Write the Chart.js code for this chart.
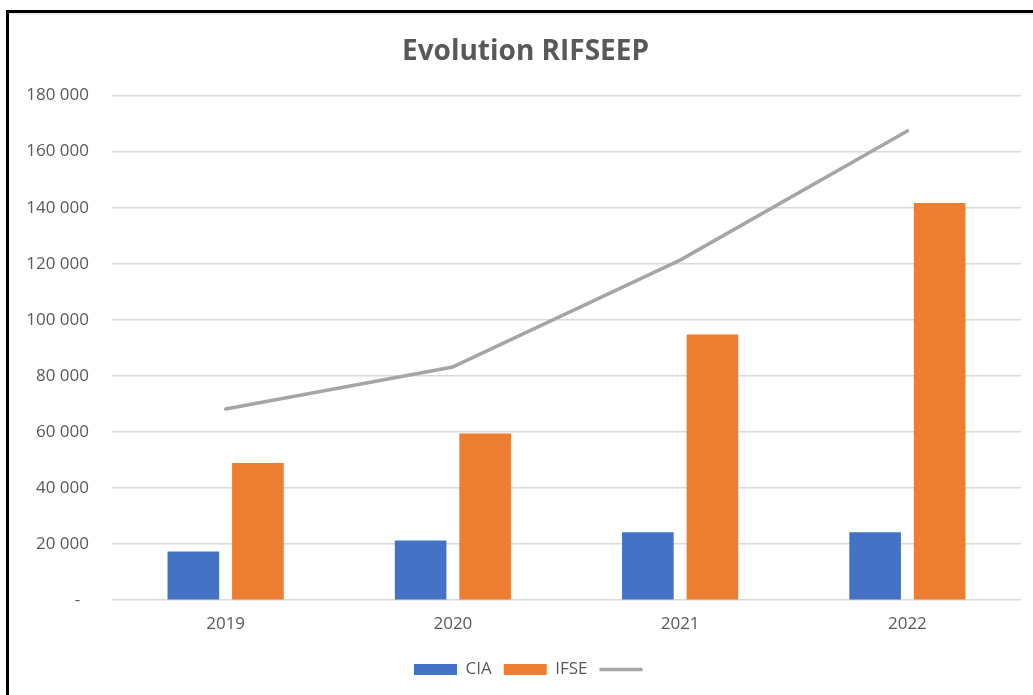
<!DOCTYPE html>
<html>
<head>
<meta charset="utf-8">
<script src="https://cdn.jsdelivr.net/npm/chart.js@4"></script>
<style>
  html, body { margin: 0; padding: 0; background: #fff; overflow: hidden; width: 1033px; height: 695px; }
  #wrap { position: absolute; left: 0; top: 0; width: 1033px; height: 700px; }
  #frame { position: absolute; left: 6px; top: 10px; width: 1100px; height: 800px;
           border-left: 3px solid #000; border-top: 3px solid #000; pointer-events: none;
           box-shadow: inset 0 2px 2px rgba(0,0,0,0.08); }
</style>
</head>
<body>
<div id="wrap"><canvas id="c" width="1033" height="700"></canvas></div>
<div id="frame"></div>
<script>
const categories = ['2019', '2020', '2021', '2022'];
const ciaValues = [17300, 21300, 24200, 24200];
const ifseValues = [48900, 59400, 94800, 141700];
const totalValues = [68200, 83200, 121300, 167400];
const seriesNames = ['CIA', 'IFSE', ''];
const titleText = 'Evolution RIFSEEP';

const textColor = '#595959';
const FONT = "'Open Sans', sans-serif";

function fmt(v) {
  if (v === 0) return '-  ';
  return String(v).replace(/\B(?=(\d{3})+(?!\d))/g, ' ');
}

const shiftBoxes = {
  id: 'shiftBoxes',
  afterLayout(chart) {
    const d = 22;
    if (chart.legend) { chart.legend.left += d; chart.legend.right += d; }
    const t = 15;
    if (chart.titleBlock) { chart.titleBlock.left += t; chart.titleBlock.right += t; }
  }
};

new Chart(document.getElementById('c'), {
  data: {
    labels: categories,
    datasets: [
      { type: 'bar', label: seriesNames[0], data: ciaValues, backgroundColor: '#4472C4',
        barPercentage: 0.8, categoryPercentage: 0.568 },
      { type: 'bar', label: seriesNames[1], data: ifseValues, backgroundColor: '#ED7D31',
        barPercentage: 0.8, categoryPercentage: 0.568 },
      { type: 'line', label: seriesNames[2], data: totalValues, borderColor: '#A5A5A5',
        backgroundColor: '#A5A5A5', borderWidth: 3.5, pointRadius: 0, pointHoverRadius: 0,
        tension: 0, borderCapStyle: 'round', borderJoinStyle: 'round', fill: false }
    ]
  },
  options: {
    responsive: false,
    animation: false,
    layout: { padding: { left: 0, right: 12, top: 0, bottom: 12 } },
    plugins: {
      title: {
        display: true, text: titleText, color: textColor,
        font: { family: FONT, size: 28, weight: 'bold' },
        padding: { top: 35, bottom: 27 }
      },
      legend: {
        position: 'bottom',
        labels: {
          color: textColor,
          font: { family: FONT, size: 17 },
          usePointStyle: true,
          pointStyleWidth: 43,
          boxHeight: 11,
          padding: 12,
          generateLabels(chart) {
            const items = Chart.defaults.plugins.legend.labels.generateLabels(chart);
            items.forEach(it => {
              const ds = chart.data.datasets[it.datasetIndex];
              it.pointStyle = ds.type === 'line' ? 'line' : 'rect';
            });
            return items;
          }
        }
      },
      tooltip: { enabled: false }
    },
    scales: {
      x: {
        grid: { display: false, drawTicks: false },
        border: { display: false },
        ticks: { color: textColor, font: { family: FONT, size: 17 }, padding: 14 },
        afterFit(scale) { scale.height += 0.5; }
      },
      y: {
        min: 0, max: 180000,
        grid: { color: '#D9D9D9', lineWidth: 1.4, drawTicks: false },
        border: { display: false },
        ticks: { stepSize: 20000, color: textColor, font: { family: FONT, size: 17 }, padding: 23,
                 callback: (v) => fmt(v) },
        afterFit(scale) { scale.width = 112; }
      }
    }
  },
  plugins: [shiftBoxes]
});
</script>
</body>
</html>
